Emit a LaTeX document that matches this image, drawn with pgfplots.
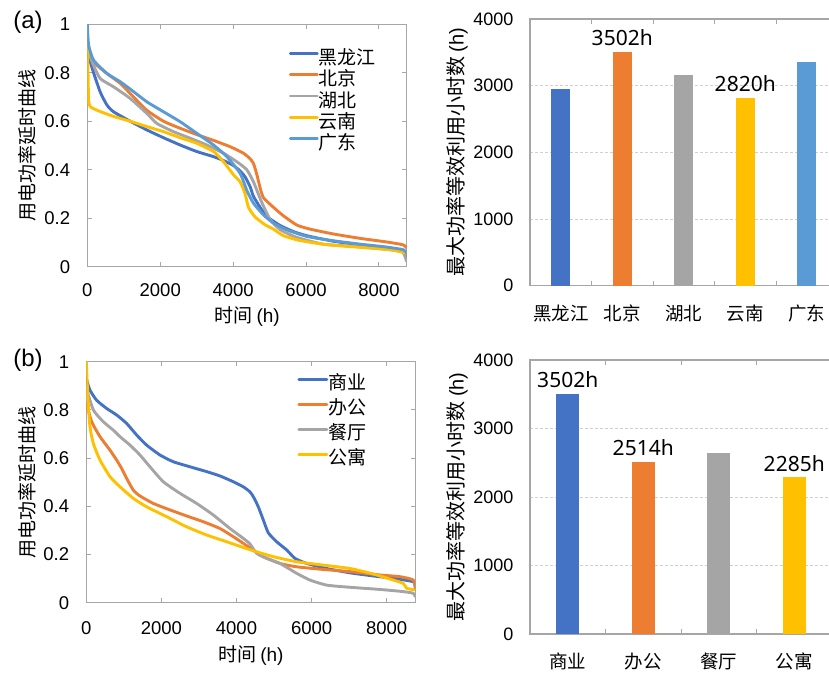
\documentclass[border=0pt]{standalone}
\usepackage{pgfplots}
\pgfplotsset{compat=1.18}
\usepackage{fontspec}
\setmainfont{Liberation Sans}
\newfontfamily\cjk{Noto Sans CJK SC}
\newfontfamily\lab{Noto Sans}
\definecolor{c1}{HTML}{4472C4}
\definecolor{c2}{HTML}{ED7D31}
\definecolor{c3}{HTML}{A5A5A5}
\definecolor{c4}{HTML}{FFC000}
\definecolor{c5}{HTML}{5B9BD5}
\definecolor{framec}{HTML}{A6A6A6}
\definecolor{gridc}{HTML}{D0D0D0}
\pgfplotsset{
  common/.style={scale only axis,
    /pgf/number format/assume math mode=true,
    /pgf/number format/1000 sep={},
    scaled ticks=false,
    axis line style={draw=framec, line width=1.2pt},
    tick style={draw=framec, line width=1pt},
    tick label style={font=\fontsize{18.5}{18.5}\selectfont},
  },
  lineax/.style={common,
    xmin=0, xmax=8760, ymin=0, ymax=1,
    xtick={0,2000,4000,6000,8000},
    ytick={0,0.2,0.4,0.6,0.8,1},
    tick align=inside, major tick length=4.5pt,
    yticklabel style={anchor=east, inner sep=0pt, xshift=-17pt},
    xticklabel style={anchor=center, inner sep=0pt, yshift=-23pt},
    label style={font=\cjk\fontsize{19}{19}\selectfont},
    legend cell align=left,
    legend image code/.code={\draw[#1] (0pt,6.8pt) -- (27pt,6.8pt);},
  },
  barax/.style={common,
    ymin=0, ymax=4000, ytick={0,1000,2000,3000,4000},
    ymajorgrids, grid style={dash pattern=on 3pt off 2pt, draw=gridc, line width=1pt},
    ytick style={draw=none},
    major tick length=0pt,
    yticklabel style={anchor=east, inner sep=0pt, xshift=-16.5pt, font=\fontsize{18}{18}\selectfont},
    xticklabel style={anchor=center, inner sep=0pt, yshift=-27.5pt, font=\cjk\fontsize{18.5}{18.5}\selectfont},
    extra x tick labels={},
    extra x tick style={major tick length=5pt, tick align=inside},
    label style={font=\cjk\fontsize{20}{20}\selectfont},
  },
  curve/.style={line width=2.9pt, line join=round, line cap=round, smooth, tension=0.35},
  lbl/.style={nodes near coords={#1}, every node near coord/.style={font=\lab\fontsize{21}{21}\selectfont, anchor=south, inner sep=0pt, yshift=6pt, text=black}},
}
\begin{document}
\begin{tikzpicture}
% ---------- (a) line chart ----------
\begin{axis}[lineax, width=319.4pt, height=242.4pt, at={(87.3pt,406.3pt)}, anchor=south west,
  xlabel={时间 {\fontspec{Liberation Sans}(h)}},
  ylabel={用电功率延时曲线},
  xlabel style={at={(axis description cs:0.5,-0.206)}, anchor=center},
  ylabel style={at={(axis description cs:-0.1875,0.5)}, anchor=center},
  legend style={draw=none, fill=none, at={(0.631,0.896)}, anchor=north west,
    font=\cjk\fontsize{19}{19}\selectfont, row sep=0pt, inner sep=0pt, outer sep=0pt,
    nodes={inner sep=0pt, text height=15pt, text depth=6.3pt},
    /tikz/every even column/.append style={column sep=3pt}},
]
\addplot[curve, c1] coordinates {(0,0.886) (50,0.86) (173,0.80) (356,0.72) (539,0.667) (721,0.639) (1178,0.60) (1635,0.564) (2091,0.532) (2548,0.502) (3005,0.475) (3462,0.454) (3736,0.438) (4010,0.417) (4192,0.395) (4329,0.37) (4466,0.33) (4557,0.29) (4740,0.245) (4922,0.207) (5288,0.170) (5653,0.145) (6019,0.128) (6750,0.105) (7480,0.091) (8211,0.078) (8668,0.062) (8760,0.04)};
\addlegendentry{黑龙江}
\addplot[curve, c2] coordinates {(0,0.91) (173,0.845) (539,0.797) (904,0.756) (1270,0.70) (1635,0.645) (2091,0.60) (2548,0.571) (3005,0.545) (3462,0.521) (3918,0.495) (4284,0.468) (4466,0.445) (4560,0.425) (4650,0.38) (4740,0.325) (4830,0.285) (5105,0.245) (5379,0.21) (5744,0.172) (6110,0.155) (6750,0.135) (7480,0.117) (8211,0.102) (8668,0.09) (8760,0.077)};
\addlegendentry{北京}
\addplot[curve, c3] coordinates {(0,0.90) (173,0.83) (356,0.776) (721,0.742) (1178,0.694) (1635,0.632) (1909,0.591) (2365,0.557) (2822,0.53) (3279,0.502) (3736,0.468) (4101,0.433) (4375,0.40) (4557,0.35) (4786,0.265) (5014,0.195) (5288,0.153) (5744,0.121) (6475,0.093) (7389,0.083) (8302,0.07) (8650,0.06) (8760,0.022)};
\addlegendentry{湖北}
\addplot[curve, c4] coordinates {(0,0.92) (20,0.80) (35,0.694) (82,0.66) (356,0.64) (721,0.62) (1178,0.60) (1635,0.578) (2091,0.557) (2548,0.532) (3005,0.509) (3462,0.475) (3736,0.433) (4010,0.379) (4192,0.35) (4329,0.30) (4420,0.245) (4603,0.205) (4877,0.173) (5105,0.155) (5379,0.128) (5836,0.108) (6566,0.091) (7480,0.08) (8302,0.07) (8760,0.056)};
\addlegendentry{云南}
\addplot[curve, c5] coordinates {(0,1.0) (37,0.914) (173,0.852) (539,0.797) (904,0.763) (1270,0.722) (1635,0.68) (2091,0.639) (2548,0.598) (3005,0.55) (3462,0.502) (3827,0.454) (4192,0.385) (4375,0.315) (4557,0.262) (4831,0.214) (5105,0.18) (5470,0.152) (6019,0.125) (6750,0.107) (7480,0.093) (8211,0.081) (8668,0.07) (8760,0.056)};
\addlegendentry{广东}
\end{axis}
% ---------- (b) line chart ----------
\begin{axis}[lineax, width=328.9pt, height=241pt, at={(86.3pt,70.3pt)}, anchor=south west,
  xticklabel style={yshift=-2pt},
  xlabel={时间 {\fontspec{Liberation Sans}(h)}},
  ylabel={用电功率延时曲线},
  xlabel style={at={(axis description cs:0.5,-0.219)}, anchor=center},
  ylabel style={at={(axis description cs:-0.18,0.5)}, anchor=center},
  legend style={draw=none, fill=none, at={(0.642,0.948)}, anchor=north west,
    font=\cjk\fontsize{19}{19}\selectfont, row sep=0pt, inner sep=0pt, outer sep=0pt,
    nodes={inner sep=0pt, text height=15pt, text depth=10pt},
    /tikz/every even column/.append style={column sep=4pt}},
  legend image code/.code={\draw[#1] (0pt,6.8pt) -- (28pt,6.8pt);},
]
\addplot[curve, c1] coordinates {(0,0.93) (98,0.882) (276,0.84) (542,0.806) (808,0.779) (1074,0.744) (1340,0.696) (1606,0.654) (1961,0.613) (2316,0.585) (2760,0.564) (3204,0.544) (3559,0.526) (3914,0.502) (4180,0.481) (4358,0.46) (4448,0.44) (4581,0.398) (4715,0.343) (4848,0.29) (5070,0.253) (5336,0.219) (5558,0.184) (5869,0.163) (6401,0.142) (7023,0.124) (7644,0.111) (8177,0.101) (8710,0.087) (8760,0.066)};
\addlegendentry{商业}
\addplot[curve, c2] coordinates {(0,0.83) (143,0.751) (365,0.689) (631,0.633) (808,0.592) (941,0.557) (1074,0.516) (1252,0.467) (1429,0.443) (1784,0.412) (2228,0.385) (2672,0.36) (3116,0.336) (3559,0.308) (3914,0.274) (4270,0.237) (4715,0.191) (5158,0.163) (5602,0.149) (6312,0.138) (7023,0.129) (7822,0.115) (8355,0.108) (8710,0.094) (8760,0.06)};
\addlegendentry{办公}
\addplot[curve, c3] coordinates {(0,0.89) (187,0.80) (453,0.751) (719,0.716) (897,0.689) (1163,0.654) (1429,0.613) (1695,0.564) (2050,0.502) (2494,0.454) (2938,0.412) (3382,0.364) (3826,0.308) (4181,0.267) (4358,0.244) (4536,0.205) (4803,0.184) (5158,0.163) (5602,0.122) (5957,0.094) (6401,0.073) (7023,0.064) (7822,0.055) (8443,0.046) (8710,0.039) (8760,0.025)};
\addlegendentry{餐厅}
\addplot[curve, c4] coordinates {(0,1.0) (46,0.84) (98,0.73) (187,0.661) (365,0.592) (631,0.523) (897,0.481) (1252,0.433) (1606,0.398) (2139,0.357) (2672,0.315) (3204,0.281) (3737,0.253) (4358,0.22) (4981,0.191) (5602,0.170) (6312,0.156) (7023,0.142) (7644,0.119) (8177,0.094) (8443,0.08) (8532,0.06) (8760,0.053)};
\addlegendentry{公寓}
\end{axis}
% ---------- (a) bar chart ----------
\begin{axis}[barax, width=307.5pt, height=266.7pt, at={(530pt,387.3pt)}, anchor=south west,
  xmin=-0.5, xmax=4.5, xtick={0,1,2,3,4},
  xticklabels={黑龙江,北京,湖北,云南,广东},
  extra x ticks={0.5,1.5,2.5,3.5},
  ylabel={最大功率等效利用小时数 {\fontspec{Liberation Sans}(h)}},
  ylabel style={at={(axis description cs:-0.237,0.5)}, anchor=center},
]
\addplot[ybar, bar shift=0pt, bar width=19pt, fill=c1, draw=none] coordinates {(0,2950)};
\addplot[ybar, bar shift=0pt, bar width=19pt, fill=c2, draw=none, lbl={3502h}] coordinates {(1,3502)};
\addplot[ybar, bar shift=0pt, bar width=19pt, fill=c3, draw=none] coordinates {(2,3160)};
\addplot[ybar, bar shift=0pt, bar width=19pt, fill=c4, draw=none, lbl={2820h}] coordinates {(3,2820)};
\addplot[ybar, bar shift=0pt, bar width=19pt, fill=c5, draw=none] coordinates {(4,3350)};
\end{axis}
% ---------- (b) bar chart ----------
\begin{axis}[barax, width=302pt, height=274pt, at={(530pt,39pt)}, anchor=south west,
  xmin=-0.5, xmax=3.5, xtick={0,1,2,3},
  xticklabels={商业,办公,餐厅,公寓},
  extra x ticks={0.5,1.5,2.5},
  ylabel={最大功率等效利用小时数 {\fontspec{Liberation Sans}(h)}},
  ylabel style={at={(axis description cs:-0.241,0.5)}, anchor=center},
]
\addplot[ybar, bar shift=0pt, bar width=23pt, fill=c1, draw=none, lbl={3502h}] coordinates {(0,3502)};
\addplot[ybar, bar shift=0pt, bar width=23pt, fill=c2, draw=none, lbl={2514h}] coordinates {(1,2514)};
\addplot[ybar, bar shift=0pt, bar width=23pt, fill=c3, draw=none] coordinates {(2,2640)};
\addplot[ybar, bar shift=0pt, bar width=23pt, fill=c4, draw=none, lbl={2285h}] coordinates {(3,2285)};
\end{axis}
\node[font=\fontsize{24}{24}\selectfont] at (28pt,651pt) {(a)};
\node[font=\fontsize{24}{24}\selectfont] at (28pt,313pt) {(b)};
\pgfresetboundingbox
\path[use as bounding box] (0,0) rectangle (829pt,673pt);
\end{tikzpicture}
\end{document}
